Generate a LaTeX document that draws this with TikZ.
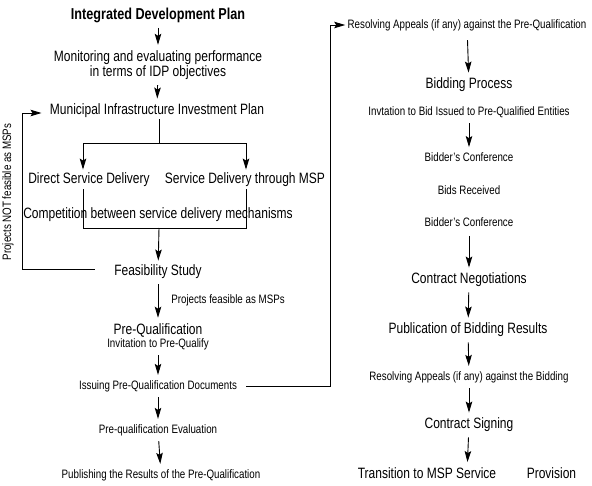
\documentclass[tikz,border=0pt]{standalone}
\usepackage{fontspec}
\setmainfont[FakeStretch=0.8]{Liberation Sans}
\usepackage{tikz}
\usetikzlibrary{arrows.meta,positioning,calc}

\begin{document}
\begin{tikzpicture}[x=1pt, y=-1pt, >={Stealth[length=11pt, width=6.5pt, inset=2pt]},
  line width=0.9pt, inner sep=1pt,
  big/.style={font=\fontsize{15.8}{17}\selectfont\bfseries},
  med/.style={font=\fontsize{15}{15.5}\selectfont},
  sml/.style={font=\fontsize{12.2}{13}\selectfont},
  gap/.style={shorten <=4pt, shorten >=4pt}]
  \useasboundingbox (0,0) rectangle (592,485);
  % left column
  \node[big] (idp) at (158,15) {Integrated Development Plan};
  \node[med, align=center] (mon) at (158,65) {Monitoring and evaluating performance\\ in terms of IDP objectives};
  \node[med] (miip) at (157,111) {Municipal Infrastructure Investment Plan};
  \node[med] (dsd) at (89,180) {Direct Service Delivery};
  \node[med] (msp) at (245,180) {Service Delivery through MSP};
  \node[med] (comp) at (158,215) {Competition between service delivery mechanisms};
  \node[med] (feas) at (158,272) {Feasibility Study};
  \node[sml] (pfm) at (228,300) {Projects feasible as MSPs};
  \node[med] (pq) at (158,330) {Pre-Qualification};
  \node[sml] (inv) at (158,344) {Invitation to Pre-Qualify};
  \node[sml] (ipq) at (158,386) {Issuing Pre-Qualification Documents};
  \node[sml] (pqe) at (158,430) {Pre-qualification Evaluation};
  \node[sml] (pub) at (161,475) {Publishing the Results of the Pre-Qualification};
  \node[sml, rotate=90] (notf) at (8,192) {Projects NOT feasible as MSPs};
  % right column
  \node[sml] (rap) at (467,25) {Resolving Appeals (if any) against the Pre-Qualification};
  \node[med] (bid) at (469,85) {Bidding Process};
  \node[sml] (itb) at (469,112) {Invtation to Bid Issued to Pre-Qualified Entities};
  \node[sml] (bc1) at (469,157) {Bidder's Conference};
  \node[sml] (rec) at (469,190) {Bids Received};
  \node[sml] (bc2) at (469,222) {Bidder's Conference};
  \node[med] (neg) at (469,280) {Contract Negotiations};
  \node[med] (pbr) at (468,330) {Publication of Bidding Results};
  \node[sml] (rab) at (469,377) {Resolving Appeals (if any) against the Bidding};
  \node[med] (sig) at (469,425) {Contract Signing};
  \node[med] (tra) at (467,473) {Transition to MSP Service \hspace{24pt} Provision};
  % junction points
  \coordinate (ftop) at (159,143);
  \coordinate (fl) at (83,143);
  \coordinate (fr) at (246,143);
  \coordinate (fbot) at (159,228);
  \coordinate (fbl) at (22,269);
  \coordinate (fbt) at (22,113);
  \coordinate (rl) at (330,386);
  \coordinate (rt) at (330,25);
  % arrows
  \draw[->, gap] (idp) -- (idp |- mon.north);
  \draw[->, gap] (mon) -- (miip);
  \draw (miip.south -| ftop) -- (ftop);
  \draw (fl) -- (fr);
  \draw[->] (fl) -- ($(fl |- dsd.north)+(0,-2)$);
  \draw[->] (fr) -- ($(fr |- msp.north)+(0,-2)$);
  \draw ($(fl |- dsd.south)+(0,1)$) -- (fl |- fbot) -- (fr |- fbot) -- ($(fr |- msp.south)+(0,1)$);
  \draw[->, shorten >=3pt] (fbot) -- (feas);
  \draw[->, shorten <=18pt, shorten >=7pt] (feas.west |- fbl) -- (fbl) -- (fbt) -- (miip.west |- fbt);
  \draw[->, gap] (feas) -- (pq);
  \draw[->, gap] (inv) -- (ipq);
  \draw[->, gap] (ipq) -- (pqe);
  \draw[->, gap] (pqe) -- (pub);
  \draw[->, shorten <=8pt, shorten >=1pt] (ipq.east) -- (rl) -- (rt) -- (rap.west);
  \draw[->, shorten <=8pt, shorten >=4pt] (rap) -- (bid);
  \draw[->, gap] (itb) -- (bc1);
  \draw[->, shorten <=8pt, shorten >=4pt] (bc2) -- (neg);
  \draw[->, gap] (neg) -- (pbr);
  \draw[->, gap] (pbr) -- (rab);
  \draw[->, gap] (rab) -- (sig);
  \draw[->, gap] (sig) -- (tra);
\end{tikzpicture}
\end{document}
